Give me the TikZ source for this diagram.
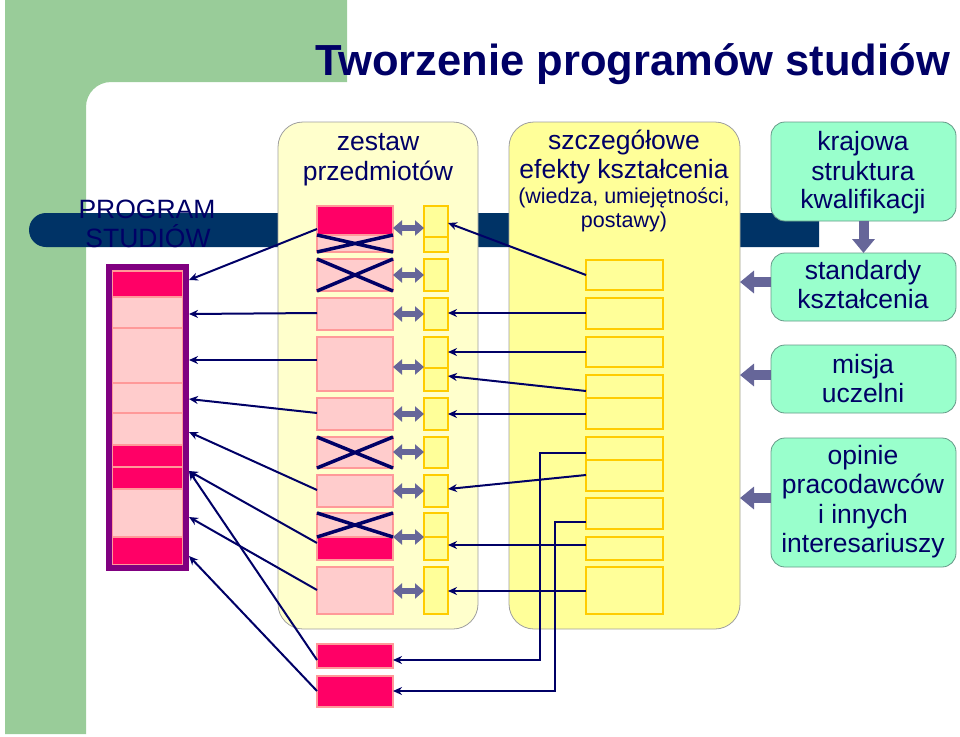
\documentclass[tikz,border=0pt]{standalone}
\usepackage{fontspec}
\setmainfont{Liberation Sans}
\usetikzlibrary{arrows.meta,fit,calc}
\definecolor{navy}{HTML}{000066}
\definecolor{bandc}{HTML}{003366}
\definecolor{bggreen}{HTML}{99CC99}
\definecolor{hot}{HTML}{FF0066}
\definecolor{lpink}{HTML}{FFCCCC}
\definecolor{pedge}{HTML}{FF9999}
\definecolor{ylw}{HTML}{FFFF99}
\definecolor{ylwedge}{HTML}{FFCC00}
\definecolor{pale}{HTML}{FFFFCC}
\definecolor{mint}{HTML}{99FFCC}
\definecolor{kedge}{HTML}{669988}
\definecolor{slate}{HTML}{666699}
\definecolor{purp}{HTML}{800080}
\newcommand\bx[6]{\node[#6, fit={(#2,#3) (#4,#5)}] (#1) {};}
\begin{document}
\begin{tikzpicture}[x=1pt,y=-1pt,
  rbox/.style={inner sep=0pt, outer sep=0pt},
  hotbox/.style={rbox, fill=hot, draw=pedge, line width=1.5pt},
  ltbox/.style={rbox, fill=lpink, draw=pedge, line width=1.5pt},
  ybox/.style={rbox, fill=ylw, draw=ylwedge, line width=1.5pt},
  panel/.style={rbox, rounded corners=25pt, draw=gray!75, line width=0.8pt},
  kbox/.style={rbox, rounded corners=14pt, fill=mint, draw=kedge, line width=0.8pt},
  lbl/.style={anchor=base, text=navy, font=\fontsize{26.5}{30}\selectfont, inner sep=0pt},
  small/.style={lbl, font=\fontsize{21.5}{24}\selectfont},
  conn/.style={draw=navy, line width=2pt, -{Stealth[length=9pt,width=8pt]}},
  dbl/.style={draw=slate, line width=6pt, {Triangle[length=9pt,width=15pt]}-{Triangle[length=9pt,width=15pt]}},
  big/.style={draw=slate, line width=10pt, -{Triangle[length=14pt,width=22pt]}},
  xmark/.style={draw=navy, line width=3.5pt}
]
\useasboundingbox (0,0) rectangle (960,736);
% background
\fill[bggreen] (5,0) -- (347,0) -- (347,82) [rounded corners=25pt] -- (86,82) [sharp corners] -- (86,734) -- (5,734) -- cycle;
\fill[bandc] (819,213) [rounded corners=17pt] -- (29,213) -- (29,247) [sharp corners] -- (819,247) -- cycle;
\node[lbl] (ps1) at (147,218) {PROGRAM};
\node[lbl] (ps2) at (148,247) {STUDIÓW};
\node[anchor=base west, text=navy, inner sep=0pt, font=\bfseries\fontsize{43.5}{48}\selectfont] (title) at (315,75) {Tworzenie programów studiów};
% panels
\bx{zs}{278}{122}{478}{629}{panel, fill=pale}
\bx{ef}{509}{122}{740}{629}{panel, fill=ylw}
\node[lbl] (zs1) at (378,150) {zestaw};
\node[lbl] (zs2) at (378,180) {przedmiotów};
\node[lbl] (ef1) at (624,149) {szczegółowe};
\node[lbl] (ef2) at (624,178) {efekty kształcenia};
\node[small] (ef3) at (624,203) {(wiedza, umiejętności,};
\node[small] (ef4) at (624,227) {postawy)};
% green boxes
\bx{k1}{771}{122}{956}{221}{kbox}
\bx{k2}{771}{253}{956}{321}{kbox}
\bx{k3}{771}{345}{956}{413}{kbox}
\bx{k4}{771}{438}{956}{567}{kbox}
\node[lbl] (k1a) at (863,150) {krajowa};
\node[lbl] (k1b) at (863,180) {struktura};
\node[lbl] (k1c) at (863,208) {kwalifikacji};
\node[lbl] (k2a) at (863,279) {standardy};
\node[lbl] (k2b) at (863,308) {kształcenia};
\node[lbl] (k3a) at (863,373) {misja};
\node[lbl] (k3b) at (863,402) {uczelni};
\node[lbl] (k4a) at (863,464) {opinie};
\node[lbl] (k4b) at (863,493) {pracodawców};
\node[lbl] (k4c) at (863,523) {i innych};
\node[lbl] (k4d) at (863,552) {interesariuszy};
% programme column
\bx{s1}{112}{271}{183}{297}{hotbox}
\bx{s2}{112}{297}{183}{328}{ltbox}
\bx{s3}{112}{328}{183}{383}{ltbox}
\bx{s4}{112}{383}{183}{413}{ltbox}
\bx{s5}{112}{413}{183}{445}{ltbox}
\bx{s6}{112}{445}{183}{467}{hotbox}
\bx{s7}{112}{467}{183}{489}{hotbox}
\bx{s8}{112}{489}{183}{537}{ltbox}
\bx{s9}{112}{537}{183}{565}{hotbox}
\node[rbox, outer sep=3pt, draw=purp, line width=6pt, fit={(109,267) (186,568)}] (prog) {};
% column 1 (subjects)
\bx{p1}{317}{206}{393}{235}{hotbox}
\bx{p2}{317}{235}{393}{252}{ltbox}
\bx{p3}{317}{259}{393}{291}{ltbox}
\bx{p4}{317}{298}{393}{330}{ltbox}
\bx{p5}{317}{337}{393}{391}{ltbox}
\bx{p6}{317}{398}{393}{430}{ltbox}
\bx{p7}{317}{437}{393}{468}{ltbox}
\bx{p8}{317}{475}{393}{507}{ltbox}
\bx{p9}{317}{513}{393}{537}{ltbox}
\bx{p10}{317}{537}{393}{560}{hotbox}
\bx{p11}{317}{567}{393}{614}{ltbox}
\bx{p12}{317}{644}{393}{668}{hotbox}
\bx{p13}{317}{676}{393}{707}{hotbox}
% column 2
\bx{y1}{424}{206}{448}{237}{ybox}
\bx{y2}{424}{237}{448}{252}{ybox}
\bx{y3}{424}{259}{448}{291}{ybox}
\bx{y4}{424}{298}{448}{330}{ybox}
\bx{y5}{424}{337}{448}{368}{ybox}
\bx{y6}{424}{368}{448}{391}{ybox}
\bx{y7}{424}{398}{448}{430}{ybox}
\bx{y8}{424}{437}{448}{468}{ybox}
\bx{y9}{424}{475}{448}{507}{ybox}
\bx{y10}{424}{513}{448}{537}{ybox}
\bx{y11}{424}{537}{448}{560}{ybox}
\bx{y12}{424}{567}{448}{614}{ybox}
% column 3
\bx{e1}{586}{260}{663}{290}{ybox}
\bx{e2}{586}{298}{663}{329}{ybox}
\bx{e3}{586}{337}{663}{367}{ybox}
\bx{e4}{586}{375}{663}{398}{ybox}
\bx{e5}{586}{398}{663}{429}{ybox}
\bx{e6}{586}{437}{663}{460}{ybox}
\bx{e7}{586}{460}{663}{491}{ybox}
\bx{e8}{586}{498}{663}{529}{ybox}
\bx{e9}{586}{537}{663}{560}{ybox}
\bx{e10}{586}{567}{663}{614}{ybox}
% crosses
\foreach \b in {p2,p3,p7,p9}{
  \draw[xmark] (\b.north west) -- (\b.south east) (\b.south west) -- (\b.north east);
}
% double arrows
\draw[dbl] (p1.east |- 0,228) -- (y1.west |- 0,228);
\draw[dbl] (p3.east) -- (y3.west);
\draw[dbl] (p4.east) -- (y4.west);
\draw[dbl] (p5.east |- 0,367) -- (y5.west |- 0,367);
\draw[dbl] (p6.east) -- (y7.west);
\draw[dbl] (p7.east |- 0,452) -- (y8.west |- 0,452);
\draw[dbl] (p8.east |- 0,491) -- (y9.west |- 0,491);
\draw[dbl] (p9.east |- 0,537) -- (y10.west |- 0,537);
\draw[dbl] (p11.east |- 0,591) -- (y12.west |- 0,591);
% connectors column 3 -> column 2
\draw[conn] (e1.west |- 0,275) -- (y1.east |- 0,223);
\draw[conn] (e2.west |- 0,313) -- (y4.east |- 0,313);
\draw[conn] (e3.west |- 0,352) -- (y5.east |- 0,352);
\draw[conn] (e4.west |- 0,391) -- (y6.east |- 0,376);
\draw[conn] (e5.west |- 0,414) -- (y7.east |- 0,414);
\draw[conn] (e6.west |- 0,453) -- ++(-46,0) |- (p12.east |- 0,660);
\draw[conn] (e7.west |- 0,475) -- (y9.east |- 0,489);
\draw[conn] (e8.west |- 0,522) -- ++(-31,0) |- (p13.east |- 0,691);
\draw[conn] (e9.west |- 0,545) -- (y11.east |- 0,545);
\draw[conn] (e10.west |- 0,591) -- (y12.east |- 0,591);
% connectors column 1 -> programme
\draw[conn] (p1.west |- 0,229) -- (prog.east |- 0,280);
\draw[conn] (p4.west |- 0,313) -- (prog.east |- 0,314);
\draw[conn] (p5.west |- 0,360) -- (prog.east |- 0,360);
\draw[conn] (p6.west |- 0,413) -- (prog.east |- 0,399);
\draw[conn] (p8.west |- 0,490) -- (prog.east |- 0,432);
\draw[conn] (p10.west |- 0,543) -- (prog.east |- 0,471);
\draw[conn] (p12.west |- 0,660) -- (prog.east |- 0,471);
\draw[conn] (p11.west |- 0,590) -- (prog.east |- 0,517);
\draw[conn] (p13.west |- 0,691) -- (prog.east |- 0,556);
% big arrows
\draw[big] (k1.south) -- (k2.north);
\draw[big] (k2.west |- 0,282) -- (ef.east |- 0,282);
\draw[big] (k3.west |- 0,375) -- (ef.east |- 0,375);
\draw[big] (k4.west |- 0,498) -- (ef.east |- 0,498);
\end{tikzpicture}
\end{document}
